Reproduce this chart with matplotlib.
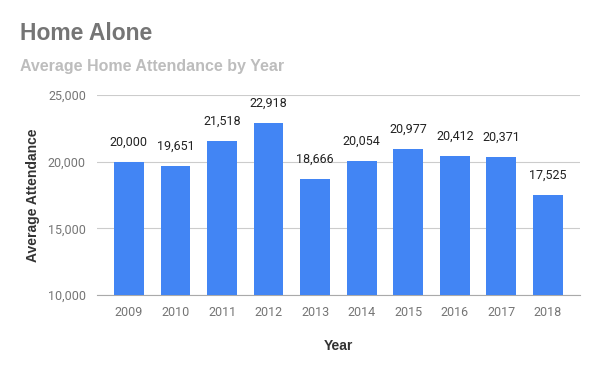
import matplotlib
matplotlib.use('Agg')
import matplotlib.pyplot as plt
from matplotlib.ticker import FuncFormatter

# data
years = ['2009', '2010', '2011', '2012', '2013', '2014', '2015', '2016', '2017', '2018']
attendance = [20000, 19651, 21518, 22918, 18666, 20054, 20977, 20412, 20371, 17525]
y_ticks = [10000, 15000, 20000, 25000]

fig = plt.figure(figsize=(5.99, 3.71), dpi=100)
ax = fig.add_axes([0.162, 0.205, 0.806, 0.539])

x = range(len(years))
bars = ax.bar(x, attendance, width=0.64, color='#4285f4', zorder=3)

# labels above bars
for xi, v in zip(x, attendance):
	ax.text(xi, v + 1000, '{:,}'.format(v), ha='center', va='bottom',
			fontsize=9, family='Roboto', color='#222222')

ax.set_ylim(10000, 25000)
ax.set_xlim(-0.685, len(years) - 1 + 0.685)
ax.set_yticks(y_ticks)
ax.yaxis.set_major_formatter(FuncFormatter(lambda v, p: '{:,}'.format(int(v))))
ax.set_xticks(list(x))
ax.set_xticklabels(years)
ax.grid(axis='y', color='#cccccc', linewidth=0.8, zorder=0)
for s in ['top', 'right', 'left']:
	ax.spines[s].set_visible(False)
ax.spines['bottom'].set_color('#aaaaaa')
ax.tick_params(length=0, labelsize=9, labelcolor='#757575', pad=8)
for lab in ax.get_xticklabels() + ax.get_yticklabels():
	lab.set_family('Roboto')

ax.set_xlabel('Year', fontsize=10, fontweight='bold', color='#333333',
			  family='Liberation Sans', labelpad=14)
ax.set_ylabel('Average Attendance', fontsize=10, fontweight='bold', color='#333333',
			  family='Liberation Sans', labelpad=6)

fig.text(20/599, 1 - 34/371, 'Home Alone', fontsize=16.5, fontweight='bold',
		 color='#757575', family='Liberation Sans', va='center')
fig.text(20/599, 1 - 66/371, 'Average Home Attendance by Year', fontsize=11.5,
		 fontweight='bold', color='#bdbdbd', family='Liberation Sans', va='center')

plt.savefig('out.png', dpi=100)
